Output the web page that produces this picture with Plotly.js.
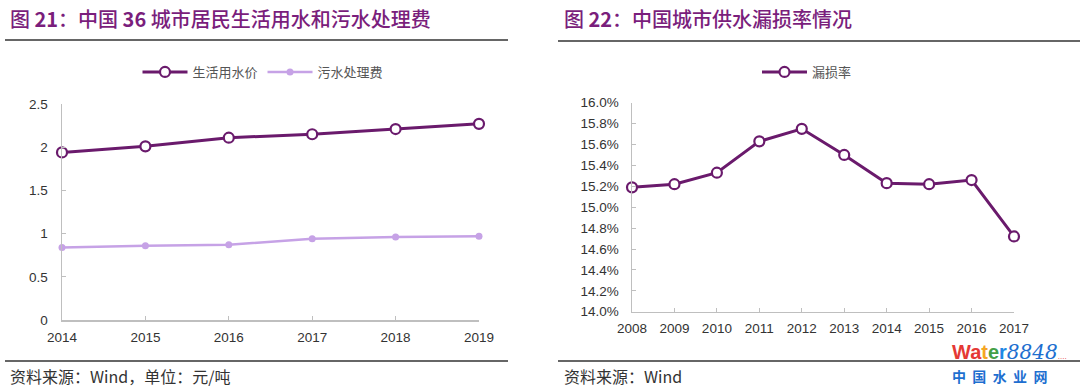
<!DOCTYPE html>
<html>
<head>
<meta charset="utf-8">
<script src="https://cdn.plot.ly/plotly-3.0.1.min.js"></script>
<style>html,body{margin:0;padding:0;background:#fff;}#chart{width:1080px;height:392px;}</style>
</head>
<body>
<div id="chart"></div>
<script>
// Left chart: 中国36城市居民生活用水和污水处理费 (元/吨)
const yearsA = [2014, 2015, 2016, 2017, 2018, 2019];
const waterPrice = [1.94, 2.01, 2.11, 2.15, 2.21, 2.27];
const sewageFee = [0.84, 0.86, 0.87, 0.94, 0.96, 0.97];
const nameA1 = '生活用水价';
const nameA2 = '污水处理费';

// Right chart: 中国城市供水漏损率情况 (%)
const yearsB = [2008, 2009, 2010, 2011, 2012, 2013, 2014, 2015, 2016, 2017];
const leakRate = [15.19, 15.22, 15.33, 15.63, 15.75, 15.50, 15.23, 15.22, 15.26, 14.72];
const nameB = '漏损率';

const titleA = '图 <b>21</b>：中国 <b>36</b> 城市居民生活用水和污水处理费';
const titleB = '图 <b>22</b>：中国城市供水漏损率情况';
const sourceA = '资料来源：Wind，单位：元/吨';
const sourceB = '资料来源：Wind';

const purple = '#6A1A6C';
const lavender = '#C6A2E6';
const axisGray = '#BFBFBF';
const cjk = '"Noto Sans CJK SC", "Liberation Sans", sans-serif';
const latin = '"Liberation Sans", Arial, sans-serif';

const traces = [
  {x: yearsA, y: waterPrice, name: nameA1, type: 'scatter', mode: 'lines+markers',
   xaxis: 'x', yaxis: 'y', legend: 'legend', cliponaxis: false,
   line: {color: purple, width: 3},
   marker: {symbol: 'circle', size: 10, color: '#ffffff', line: {color: purple, width: 2.2}}},
  {x: yearsA, y: sewageFee, name: nameA2, type: 'scatter', mode: 'lines+markers',
   xaxis: 'x', yaxis: 'y', legend: 'legend', cliponaxis: false,
   line: {color: lavender, width: 2.5},
   marker: {symbol: 'circle', size: 7, color: lavender}},
  {x: yearsB, y: leakRate, name: nameB, type: 'scatter', mode: 'lines+markers',
   xaxis: 'x2', yaxis: 'y2', legend: 'legend2', cliponaxis: false,
   line: {color: purple, width: 3},
   marker: {symbol: 'circle', size: 10, color: '#ffffff', line: {color: purple, width: 2.2}}}
];

const tickFont = {family: latin, size: 13.5, color: '#333333'};
const axBase = {showgrid: false, zeroline: false, showline: true, linecolor: axisGray, linewidth: 1.5,
  ticks: 'inside', ticklen: 4, tickcolor: axisGray, tickwidth: 1, tickfont: tickFont, fixedrange: true};

const legendFont = {family: cjk, size: 13, color: '#555555'};

const layout = {
  width: 1080, height: 392,
  margin: {l: 0, r: 0, t: 0, b: 0},
  paper_bgcolor: '#ffffff', plot_bgcolor: '#ffffff',
  showlegend: true,
  xaxis: Object.assign({}, axBase, {domain: [62/1080, 479/1080], range: [2014, 2019], dtick: 1, tick0: 2014, anchor: 'y', ticklabelstandoff: 4}),
  yaxis: Object.assign({}, axBase, {domain: [1-320/392, 1-104/392], range: [0, 2.5], dtick: 0.5, anchor: 'x', ticklabelstandoff: 10}),
  xaxis2: Object.assign({}, axBase, {domain: [632/1080, 1014/1080], range: [2008, 2017], dtick: 1, tick0: 2008, anchor: 'y2', ticklabelstandoff: 4}),
  yaxis2: Object.assign({}, axBase, {domain: [1-311.7/392, 1-102.7/392], range: [14, 16], dtick: 0.2, tickformat: '.1f', ticksuffix: '%', anchor: 'x2', ticklabelstandoff: 9}),
  legend: {orientation: 'h', x: 263/1080, xanchor: 'center', y: 1-72/392, yanchor: 'middle',
    font: legendFont, bgcolor: 'rgba(0,0,0,0)', itemwidth: 45},
  legend2: {orientation: 'h', x: 807/1080, xanchor: 'center', y: 1-72/392, yanchor: 'middle',
    font: legendFont, bgcolor: 'rgba(0,0,0,0)', itemwidth: 45},
  shapes: [
    {type: 'line', xref: 'paper', yref: 'paper', x0: 5/1080, x1: 508/1080, y0: 1-40/392, y1: 1-40/392, line: {color: '#333333', width: 1.5}},
    {type: 'line', xref: 'paper', yref: 'paper', x0: 558/1080, x1: 1080/1080, y0: 1-41/392, y1: 1-41/392, line: {color: '#333333', width: 1.5}},
    {type: 'line', xref: 'paper', yref: 'paper', x0: 5/1080, x1: 508/1080, y0: 1-361/392, y1: 1-361/392, line: {color: '#333333', width: 1.5}},
    {type: 'line', xref: 'paper', yref: 'paper', x0: 558/1080, x1: 1080/1080, y0: 1-361/392, y1: 1-361/392, line: {color: '#333333', width: 1.5}}
  ],
  annotations: [
    {xref: 'paper', yref: 'paper', x: 8/1080, y: 1-19/392, xanchor: 'left', yanchor: 'middle', showarrow: false,
     text: titleA, font: {family: cjk, size: 20, color: '#7A1E7C', weight: 500}},
    {xref: 'paper', yref: 'paper', x: 562/1080, y: 1-19/392, xanchor: 'left', yanchor: 'middle', showarrow: false,
     text: titleB, font: {family: cjk, size: 20, color: '#7A1E7C', weight: 500}},
    {xref: 'paper', yref: 'paper', x: 8/1080, y: 1-376/392, xanchor: 'left', yanchor: 'middle', showarrow: false,
     text: sourceA, font: {family: cjk, size: 16, color: '#333333'}},
    {xref: 'paper', yref: 'paper', x: 562/1080, y: 1-376/392, xanchor: 'left', yanchor: 'middle', showarrow: false,
     text: sourceB, font: {family: cjk, size: 16, color: '#333333'}},
    {xref: 'paper', yref: 'paper', x: 950/1080, y: 1-352/392, xanchor: 'left', yanchor: 'middle', showarrow: false,
     text: '<b><span style="color:#E53935">Wa</span><span style="color:#F5A623">t</span><span style="color:#43A047">e</span><span style="color:#1E88E5">r</span></b><i><span style="color:#1E6FD0;font-family:DejaVu Serif">8848</span></i><span style="color:#E53935;font-size:8px">....</span>',
     font: {family: latin, size: 20}},
    {xref: 'paper', yref: 'paper', x: 950/1080, y: 1-376/392, xanchor: 'left', yanchor: 'middle', showarrow: false,
     text: '<b>中  国  水  业  网</b>', font: {family: cjk, size: 14, color: '#1E6FD0'}}
  ]
};

Plotly.newPlot('chart', traces, layout, {displayModeBar: false, staticPlot: true});
</script>
</body>
</html>
